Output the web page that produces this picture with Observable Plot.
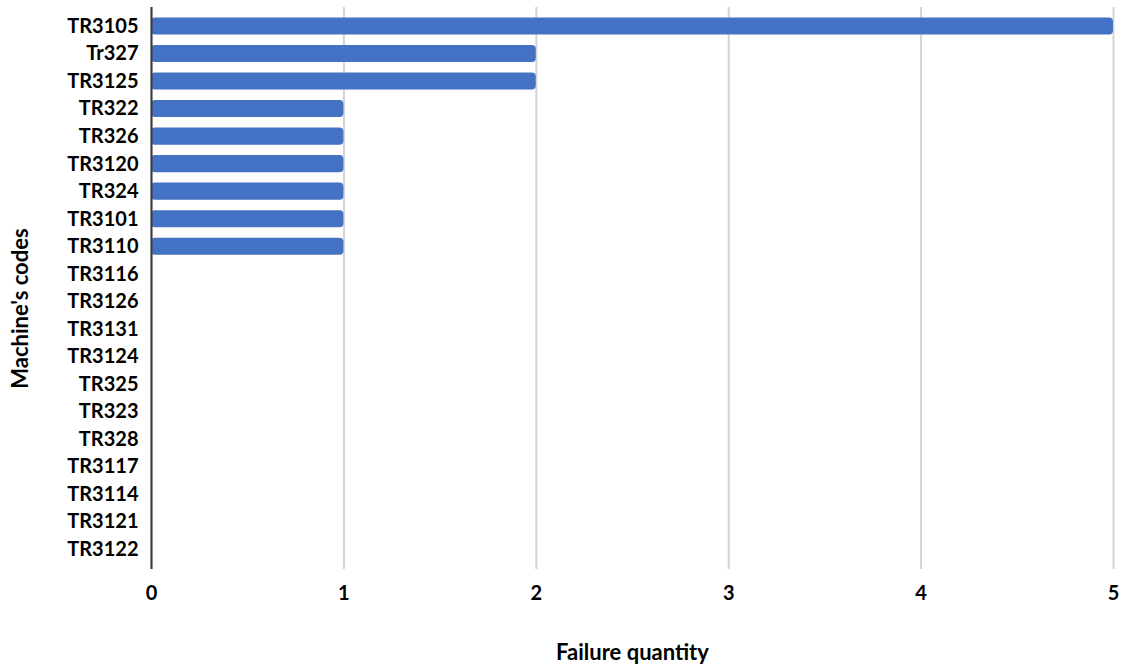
<!DOCTYPE html>
<html>
<head>
<meta charset="utf-8">
<script src="https://cdn.jsdelivr.net/npm/d3@7"></script>
<script src="https://cdn.jsdelivr.net/npm/@observablehq/plot@0.6"></script>
<style>
  html, body { margin: 0; padding: 0; background: #ffffff; }
  #chart svg { display: block; }
</style>
</head>
<body>
<div id="chart"></div>
<script>
// Machine codes, top to bottom
const machines = [
  "TR3105", "Tr327", "TR3125", "TR322", "TR326", "TR3120", "TR324", "TR3101",
  "TR3110", "TR3116", "TR3126", "TR3131", "TR3124", "TR325", "TR323", "TR328",
  "TR3117", "TR3114", "TR3121", "TR3122"
];
// Number of failures recorded for each machine
const failures = [5, 2, 2, 1, 1, 1, 1, 1, 1, 0, 0, 0, 0, 0, 0, 0, 0, 0, 0, 0];
const xTicks = [0, 1, 2, 3, 4, 5];

const rows = machines.map((m, i) => ({machine: m, failures: failures[i]}));

const chart = Plot.plot({
  width: 1124,
  height: 664,
  marginLeft: 151,
  marginRight: 11,
  marginTop: 7,
  marginBottom: 95,
  style: {fontFamily: "Lato, 'Open Sans', sans-serif", fontSize: "20px", fontWeight: "bold", color: "#000", background: "#fff", overflow: "visible"},
  x: {domain: [0, 5], ticks: xTicks, label: null},
  y: {domain: machines, padding: 0.38, insetTop: 0, insetBottom: 1, round: false, label: null},
  marks: [
    Plot.gridX(xTicks, {stroke: "#d4d4d4", strokeOpacity: 1, strokeWidth: 2}),
    Plot.barX(rows, {x: "failures", y: "machine", fill: "#4472C4", rx: 4}),
    Plot.ruleX([0], {stroke: "#3a3a3a", strokeWidth: 2}),
    Plot.axisX(xTicks, {tickSize: 0, tickPadding: 16, tickFormat: d3.format("d"), label: null, fontSize: 20, fontWeight: "bold"}),
    Plot.axisY({tickSize: 0, tickPadding: 13, label: null, fontSize: 20, fontWeight: "bold"}),
    Plot.text(["Failure quantity"], {frameAnchor: "bottom", dy: 83, lineAnchor: "middle", fontSize: 22, fontWeight: "bold"}),
    Plot.text(["Machine's codes"], {frameAnchor: "left", dx: -131, dy: 20, rotate: -90, textAnchor: "middle", lineAnchor: "middle", fontSize: 22, fontWeight: "bold"})
  ]
});

document.getElementById("chart").appendChild(chart);
</script>
</body>
</html>
